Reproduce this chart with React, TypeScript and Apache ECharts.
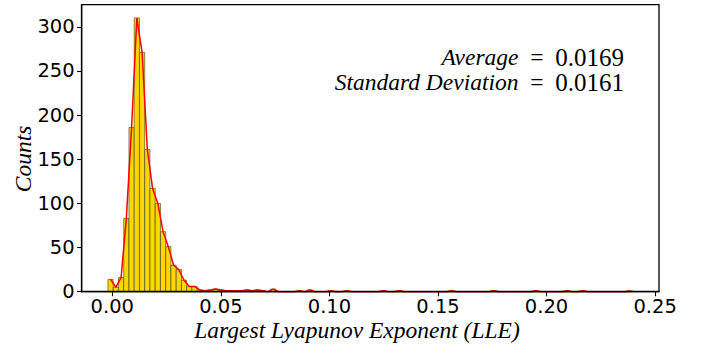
import React, { useEffect, useRef } from "react";
import * as echarts from "echarts";

// Histogram of the largest Lyapunov exponent: 100 equal-width bins
const binStart = -0.002;
const binWidth = 0.002417;
const counts = [
  14, 5, 16, 83, 186, 310, 271, 161, 117, 100,
  68, 51, 30, 25, 13, 6, 6, 2, 1, 2,
  3, 2, 1, 1, 1, 1, 2, 1, 2, 1,
  0, 3, 0, 0, 0, 0, 1, 0, 2, 0,
  0, 0, 1, 0, 0, 1, 0, 0, 0, 0,
  0, 0, 1, 0, 0, 1, 0, 0, 0, 0,
  0, 0, 0, 0, 0, 1, 0, 0, 0, 0,
  0, 0, 0, 1, 0, 0, 0, 0, 0, 0,
  0, 1, 0, 0, 0, 0, 0, 1, 0, 0,
  1, 0, 0, 0, 0, 0, 0, 0, 0, 1,
];
const xTicks = [0, 0.05, 0.1, 0.15, 0.2, 0.25];
const yTicks = [0, 50, 100, 150, 200, 250, 300];
const averageValue = "0.0169";
const stdDevValue = "0.0161";

const SERIF = '"Liberation Serif", "Times New Roman", serif';
const SANS = '"DejaVu Sans", sans-serif';
const TITLE_SIZE = 23.5;

export default function App() {
  const ref = useRef<HTMLDivElement>(null);

  useEffect(() => {
    if (!ref.current) return;
    const chart = echarts.init(ref.current, undefined, { renderer: "svg" });

    const bins = counts.map((c, i) => [
      binStart + i * binWidth,
      binStart + (i + 1) * binWidth,
      c,
    ]);
    const curve = counts.map((c, i) => [binStart + (i + 0.5) * binWidth, c]);

    const italic = `italic ${TITLE_SIZE}px ${SERIF}`;
    const upright = `${TITLE_SIZE}px ${SERIF}`;
    const statRich = {
      i: { font: italic, fill: "#000" },
      n: { font: `25px ${SERIF}`, fill: "#000" },
    };

    chart.setOption({
      animation: false,
      backgroundColor: "#fff",
      grid: {
        left: 81.7,
        top: 4.7,
        right: 46,
        bottom: 53.3,
        show: true,
        borderColor: "#000",
        borderWidth: 1.3,
        backgroundColor: "transparent",
      },
      xAxis: {
        type: "value",
        min: -0.0141,
        max: 0.2518,
        z: 5,
        axisLine: { show: true, onZero: false, lineStyle: { color: "#000", width: 1.3 } },
        axisTick: {
          show: true,
          length: 4.6,
          customValues: xTicks,
          lineStyle: { color: "#000", width: 1.1 },
        },
        axisLabel: {
          customValues: xTicks,
          formatter: (v: number) => v.toFixed(2),
          fontFamily: SANS,
          fontSize: 19.5,
          lineHeight: 19,
          color: "#000",
          margin: 5,
        },
        splitLine: { show: false },
      },
      yAxis: {
        type: "value",
        min: 0,
        max: 325,
        z: 5,
        axisLine: { show: true, onZero: false, lineStyle: { color: "#000", width: 1.3 } },
        axisTick: {
          show: true,
          length: 4.6,
          customValues: yTicks,
          lineStyle: { color: "#000", width: 1.1 },
        },
        axisLabel: {
          customValues: yTicks,
          fontFamily: SANS,
          fontSize: 19.5,
          color: "#000",
          margin: 7,
        },
        splitLine: { show: false },
      },
      series: [
        {
          type: "custom",
          data: bins,
          z: 2,
          renderItem: (_params: any, api: any) => {
            const topLeft = api.coord([api.value(0), api.value(2)]);
            const bottomRight = api.coord([api.value(1), 0]);
            return {
              type: "rect",
              shape: {
                x: topLeft[0],
                y: topLeft[1],
                width: bottomRight[0] - topLeft[0],
                height: bottomRight[1] - topLeft[1],
              },
              style: { fill: "#FFD700", stroke: "#3a3a2a", lineWidth: 0.6 },
            };
          },
        },
        {
          type: "line",
          data: curve,
          z: 3,
          symbol: "none",
          lineStyle: { color: "#FF0000", width: 1.5 },
        },
      ],
      graphic: [
        {
          type: "text",
          x: 357,
          y: 330,
          style: {
            text: "Largest Lyapunov Exponent (LLE)",
            font: italic,
            lineHeight: 20,
            fill: "#000",
            align: "center",
            verticalAlign: "middle",
          },
        },
        {
          type: "text",
          x: 23,
          y: 159,
          rotation: Math.PI / 2,
          style: {
            text: "Counts",
            font: italic,
            fill: "#000",
            align: "center",
            verticalAlign: "middle",
          },
        },
        {
          type: "text",
          x: 624,
          y: 57,
          style: {
            text: `{i|Average}  =  {n|${averageValue}}`,
            font: upright,
            fill: "#000",
            align: "right",
            verticalAlign: "middle",
            rich: statRich,
          },
        },
        {
          type: "text",
          x: 624,
          y: 82,
          style: {
            text: `{i|Standard Deviation}  =  {n|${stdDevValue}}`,
            font: upright,
            fill: "#000",
            align: "right",
            verticalAlign: "middle",
            rich: statRich,
          },
        },
      ],
    });

    return () => chart.dispose();
  }, []);

  return (
    <div
      ref={ref}
      style={{ position: "fixed", left: 0, top: 0, width: 705, height: 345 }}
    />
  );
}
